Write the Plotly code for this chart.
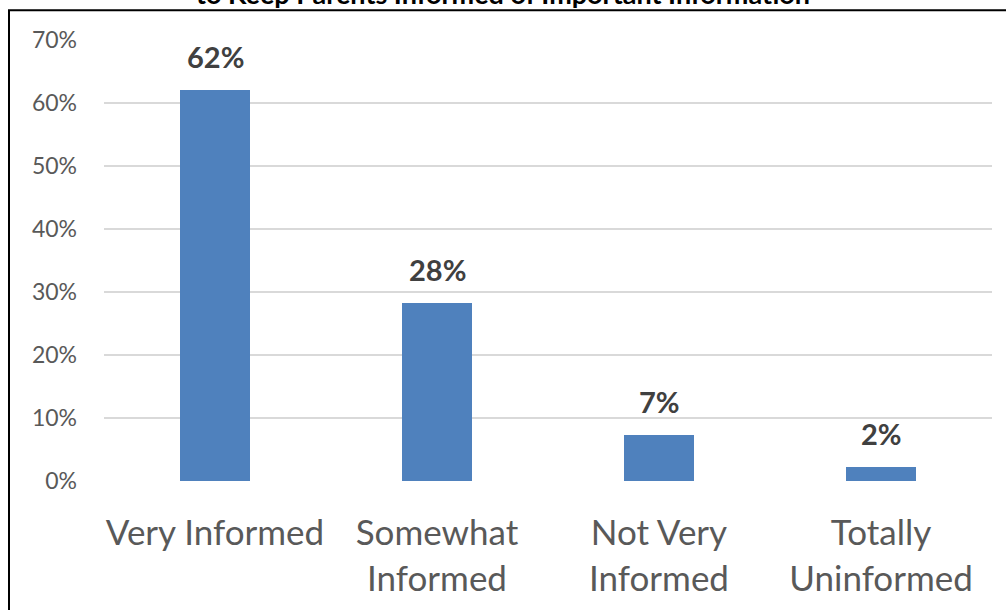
import plotly.graph_objects as go

# Survey results
categories = ["Very Informed", "Somewhat<br>Informed", "Not Very<br>Informed", "Totally<br>Uninformed"]
shares = [0.62, 0.283, 0.073, 0.023]
y_ticks = [0, 0.1, 0.2, 0.3, 0.4, 0.5, 0.6, 0.7]
title_text = "to Keep Parents Informed of Important Information"

FONT = "Lato"
W, H = 1006, 610
ML, MR, MT, MB = 104, 14, 40, 126
plot_w = W - ML - MR
plot_h = H - MT - MB

fig = go.Figure()
fig.add_trace(go.Bar(
    x=categories,
    y=shares,
    marker=dict(color="#4F81BD", line=dict(width=0)),
    width=0.315,
    hoverinfo="skip",
))

# Value labels above each bar
for c, v in zip(categories, shares):
    fig.add_annotation(
        x=c, y=v, xref="x", yref="y",
        text=f"<b>{v:.0%}</b>",
        showarrow=False, yanchor="bottom", yshift=14,
        font=dict(family=FONT, size=29, color="#404040"),
    )

# Title line sitting at the very top edge, centred on the page
fig.add_annotation(
    x=(W / 2 - ML) / plot_w, y=1 + MT / plot_h, xref="paper", yref="paper",
    xanchor="center", yanchor="middle", yshift=7,
    text=f"<b>{title_text}</b>", showarrow=False,
    font=dict(family=FONT, size=27, color="black"),
)

# Frame around the chart (right and bottom sides fall outside the canvas)
fig.add_shape(
    type="rect", xref="paper", yref="paper",
    x0=(9 - ML) / plot_w, x1=1.2,
    y0=-0.6, y1=1 + (MT - 10) / plot_h,
    line=dict(color="black", width=2),
    layer="above",
)

fig.update_layout(
    width=W, height=H,
    margin=dict(l=ML, r=MR, t=MT, b=MB),
    paper_bgcolor="white",
    plot_bgcolor="white",
    showlegend=False,
    bargap=0,
    xaxis=dict(
        showgrid=False, zeroline=False, showline=False,
        ticks="", ticklabelstandoff=28,
        tickfont=dict(family=FONT, size=35, color="#595959"),
    ),
    yaxis=dict(
        range=[0, 0.7],
        tickvals=y_ticks,
        tickformat=".0%",
        showgrid=True, gridcolor="#D9D9D9", gridwidth=1.5,
        zeroline=False, showline=False, ticks="",
        ticklabelstandoff=26,
        tickfont=dict(family=FONT, size=23, color="#595959"),
    ),
)

fig.write_html("out.html")
